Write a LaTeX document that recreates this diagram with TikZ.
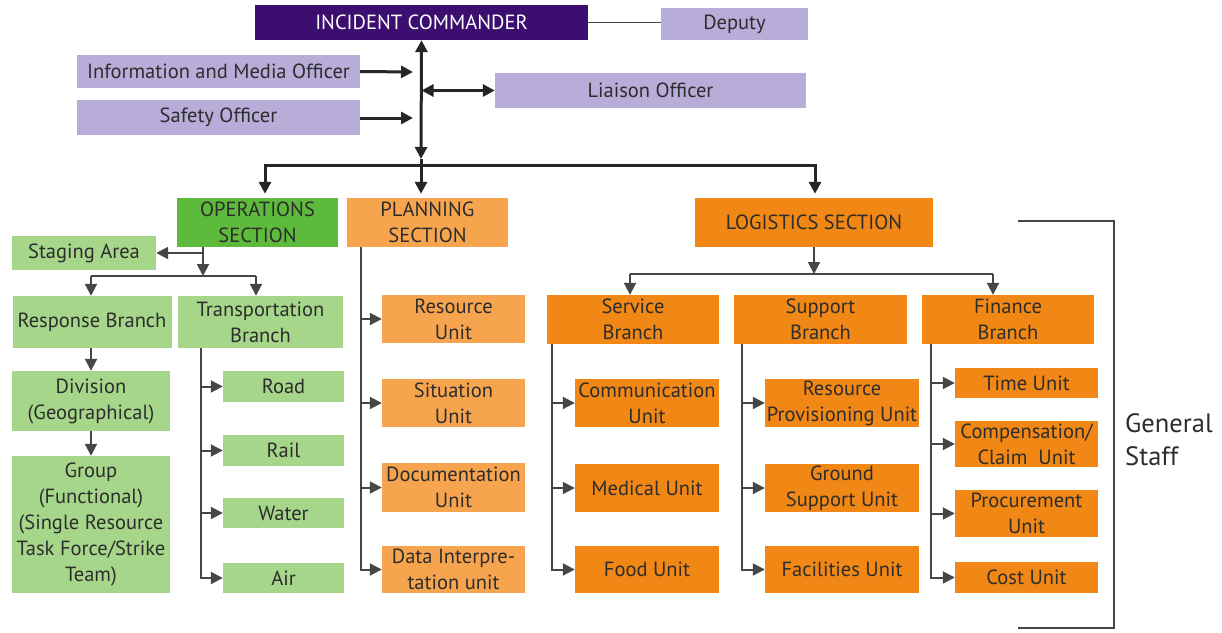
\documentclass[tikz,border=0pt]{standalone}
\usepackage{fontspec}
\setmainfont{PT Sans}
\usetikzlibrary{arrows.meta}

\definecolor{icpurple}{RGB}{60,14,112}
\definecolor{lavender}{RGB}{184,172,216}
\definecolor{opsgreen}{RGB}{94,186,60}
\definecolor{lightgreen}{RGB}{166,214,138}
\definecolor{lightorange}{RGB}{247,164,78}
\definecolor{darkorange}{RGB}{241,135,20}
\definecolor{txtgray}{RGB}{45,45,45}
\definecolor{linegray}{RGB}{70,70,70}

\begin{document}
\begin{tikzpicture}[x=1pt,y=-1pt,
    box/.style={shape=rectangle,inner sep=0pt,align=center,text=txtgray,
        font=\fontsize{20.5}{26}\selectfont},
    staffbox/.style={box,fill=lavender},
    greenbox/.style={box,fill=lightgreen},
    paleunit/.style={box,fill=lightorange},
    orangeunit/.style={box,fill=darkorange},
    tip/.tip={Triangle[length=12pt,width=12pt]},
    mainline/.style={draw=black!85,line width=3pt},
    conn/.style={draw=linegray,line width=2pt},
    arr/.style={-tip},
    ]
    \useasboundingbox (0,0) rectangle (1222,632);
    % command and staff
    \node[box,fill=icpurple,text=white,minimum width=333,minimum height=35](ic) at (421.5,22.5) {INCIDENT COMMANDER};
    \node[staffbox,minimum width=147,minimum height=32](deputy) at (734.5,24) {Deputy};
    \node[staffbox,minimum width=283,minimum height=33](info) at (218.5,71.5) {Information and Media Officer};
    \node[staffbox,minimum width=283,minimum height=35](safety) at (218.5,117.5) {Safety Officer};
    \node[staffbox,minimum width=311,minimum height=35](liaison) at (650.5,90.5) {Liaison Officer};
    % sections
    \node[box,fill=opsgreen,minimum width=161,minimum height=49](ops) at (257.5,222.5) {OPERATIONS\\SECTION};
    \node[paleunit,minimum width=161,minimum height=49](plan) at (427.5,222.5) {PLANNING\\SECTION};
    \node[orangeunit,minimum width=238,minimum height=49](log) at (814,222.5) {LOGISTICS SECTION};
    % operations
    \node[greenbox,minimum width=144,minimum height=34](staging) at (84,253) {Staging Area};
    \node[greenbox,minimum width=159,minimum height=52](resp) at (92,322) {Response Branch};
    \node[greenbox,minimum width=165,minimum height=52](trans) at (260.5,322) {Transportation\\Branch};
    \node[greenbox,minimum width=158,minimum height=60](div) at (91,401) {Division\\(Geographical)};
    \node[greenbox,minimum width=158,minimum height=137](group) at (91,524.5) {Group\\(Functional)\\(Single Resource\\Task Force/Strike\\Team)};
    \node[greenbox,minimum width=121,minimum height=31](road) at (283.5,386.5) {Road};
    \node[greenbox,minimum width=121,minimum height=31](rail) at (283.5,450.5) {Rail};
    \node[greenbox,minimum width=121,minimum height=30](water) at (283.5,513) {Water};
    \node[greenbox,minimum width=121,minimum height=30](air) at (283.5,578) {Air};
    % planning
    \node[paleunit,minimum width=143,minimum height=48](resunit) at (453.5,319) {Resource\\Unit};
    \node[paleunit,minimum width=143,minimum height=48](situnit) at (453.5,403) {Situation\\Unit};
    \node[paleunit,minimum width=143,minimum height=49](docunit) at (453.5,487.5) {Documentation\\Unit};
    \node[paleunit,minimum width=143,minimum height=47](dataunit) at (453.5,569.5) {Data Interpre-\\tation unit};
    % logistics
    \node[orangeunit,minimum width=172,minimum height=49](service) at (633,319.5) {Service\\Branch};
    \node[orangeunit,minimum width=173,minimum height=49](support) at (820.5,319.5) {Support\\Branch};
    \node[orangeunit,minimum width=172,minimum height=49](finance) at (1008,319.5) {Finance\\Branch};
    \node[orangeunit,minimum width=144,minimum height=48](comm) at (647,403) {Communication\\Unit};
    \node[orangeunit,minimum width=144,minimum height=48](medical) at (647,488) {Medical Unit};
    \node[orangeunit,minimum width=144,minimum height=47](food) at (647,569.5) {Food Unit};
    \node[orangeunit,minimum width=154,minimum height=48](resprov) at (842,403) {Resource\\Provisioning Unit};
    \node[orangeunit,minimum width=154,minimum height=48](ground) at (842,488) {Ground\\Support Unit};
    \node[orangeunit,minimum width=154,minimum height=47](facil) at (842,569.5) {Facilities Unit};
    \node[orangeunit,minimum width=143,minimum height=30](time) at (1026.5,383) {Time Unit};
    \node[orangeunit,minimum width=143,minimum height=46](comp) at (1026.5,444) {Compensation/\\Claim~ Unit};
    \node[orangeunit,minimum width=143,minimum height=47](proc) at (1026.5,513.5) {Procurement\\Unit};
    \node[orangeunit,minimum width=143,minimum height=31](cost) at (1026.5,577.5) {Cost Unit};
    \node[box,anchor=west,align=left,font=\fontsize{26.5}{33}\selectfont](staff) at (1125,440) {General\\Staff};

    % junctions
    \coordinate (spinetip) at (421,159);
    \coordinate (bus) at (421,165);
    \coordinate (busl) at (265,165);
    \coordinate (busr) at (815,165);
    \coordinate (infoend) at (413,72);
    \coordinate (safetyend) at (413,118);
    \coordinate (opsjoin) at (203,253);
    \coordinate (opsbus) at (203,276);
    \coordinate (opsbusl) at (91,276);
    \coordinate (opsbusr) at (256,276);
    \coordinate (transtop) at (201,348);
    \coordinate (plantop) at (361,247);
    \coordinate (logbus) at (814,274);
    \coordinate (logbusl) at (630,274);
    \coordinate (logbusr) at (993,274);
    \coordinate (servtop) at (552,344);
    \coordinate (supptop) at (742,344);
    \coordinate (fintop) at (931,344);
    \coordinate (brtl) at (1018,221);
    \coordinate (brtr) at (1114,221);
    \coordinate (brbr) at (1114,628);
    \coordinate (brbl) at (1018,628);

    % top of the chart
    \draw[draw=linegray,line width=1.5pt] (ic.east) -- (ic.east -| deputy.west);
    \draw[mainline,tip-tip] (ic.south) -- (spinetip);
    \draw[mainline] (spinetip) -- (bus);
    \draw[mainline,arr] (info.east) -- (infoend);
    \draw[mainline,arr] (safety.east |- safetyend) -- (safetyend);
    \draw[mainline,tip-tip] (liaison.west -| ic.south) -- (liaison.west);
    \draw[mainline,arr,shorten >=4pt] (bus) -| (ops.north -| busl);
    \draw[mainline,arr,shorten >=4pt] (bus) -- (bus |- plan.north);
    \draw[mainline,arr,shorten >=4pt] (bus) -| (log.north -| busr);
    % operations
    \draw[conn] (ops.south -| opsjoin) -- (opsjoin);
    \draw[conn,arr] (opsjoin) -- (staging.east);
    \draw[conn,arr] (opsjoin) -- (opsbus);
    \draw[conn] (opsbusl) -- (opsbusr);
    \draw[conn,arr] (opsbusl) -- (opsbusl |- resp.north);
    \draw[conn,arr] (opsbusr) -- (opsbusr |- trans.north);
    \draw[conn,arr] (resp.south -| opsbusl) -- (div.north -| opsbusl);
    \draw[conn,arr] (div.south -| opsbusl) -- (group.north -| opsbusl);
    \draw[conn,arr] (transtop) |- (air.west);
    \draw[conn,arr] (transtop |- road.west) -- (road.west);
    \draw[conn,arr] (transtop |- rail.west) -- (rail.west);
    \draw[conn,arr] (transtop |- water.west) -- (water.west);
    % planning
    \draw[conn,arr] (plantop) |- (dataunit.west);
    \draw[conn,arr] (plantop |- resunit.west) -- (resunit.west);
    \draw[conn,arr] (plantop |- situnit.west) -- (situnit.west);
    \draw[conn,arr] (plantop |- docunit.west) -- (docunit.west);
    % logistics
    \draw[conn,arr] (log.south -| logbus) -- (logbus);
    \draw[conn] (logbusl) -- (logbusr);
    \draw[conn,arr] (logbusl) -- (logbusl |- service.north);
    \draw[conn,arr] (logbusr) -- (logbusr |- finance.north);
    \draw[conn,arr] (servtop) |- (food.west);
    \draw[conn,arr] (servtop |- comm.west) -- (comm.west);
    \draw[conn,arr] (servtop |- medical.west) -- (medical.west);
    \draw[conn,arr] (supptop) |- (facil.west);
    \draw[conn,arr] (supptop |- resprov.west) -- (resprov.west);
    \draw[conn,arr] (supptop |- ground.west) -- (ground.west);
    \draw[conn,arr] (fintop) |- (cost.west);
    \draw[conn,arr] (fintop |- time.west) -- (time.west);
    \draw[conn,arr] (fintop |- comp.west) -- (comp.west);
    \draw[conn,arr] (fintop |- proc.west) -- (proc.west);
    % general staff bracket
    \draw[draw=linegray,line width=1.5pt] (brtl) -- (brtr) -- (brbr) -- (brbl);
\end{tikzpicture}
\end{document}
